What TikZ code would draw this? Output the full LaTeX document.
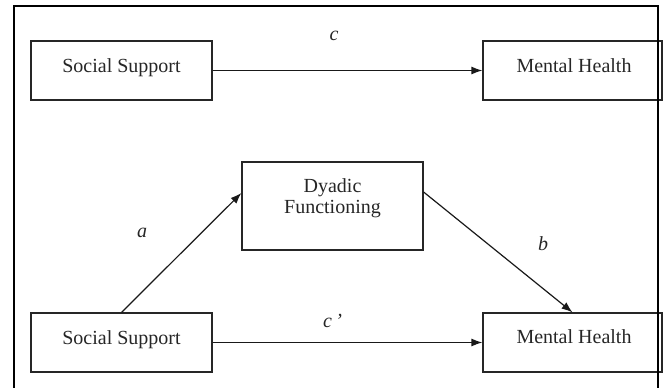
\documentclass[tikz,border=0pt]{standalone}
\usepackage{fontspec}
\setmainfont{Liberation Serif}
\usetikzlibrary{arrows.meta}
\begin{document}
\begin{tikzpicture}[x=1pt,y=-1pt,
  box/.style={draw=black!85, line width=1.2pt, minimum height=59pt, inner sep=0pt},
  txt/.style={anchor=base, inner sep=0pt, font=\fontsize{20}{22}\selectfont, text=black!85},
  lbl/.style={anchor=base, inner sep=0pt, font=\fontsize{20}{22}\selectfont\itshape, text=black!85},
  arr/.style={line width=1.2pt, draw=black!90, -{Latex[length=11pt,width=8pt]}}]
\useasboundingbox (0,0) rectangle (664,388);
% boxes
\node[box, minimum width=181pt] (ss1) at (121.5,70.5) {};
\node[box, minimum width=179pt] (mh1) at (572.5,70.5) {};
\node[box, minimum width=181pt, minimum height=88pt] (dy) at (332.5,206) {};
\node[box, minimum width=181pt] (ss2) at (121.5,342.5) {};
\node[box, minimum width=179pt] (mh2) at (572.5,342.5) {};
% texts
\node[txt] (ss1t) at (121.5,72) {Social Support};
\node[txt] (mh1t) at (574,72) {Mental Health};
\node[txt, align=center, font=\fontsize{20}{20.5}\selectfont] (dyt) at (332.5,213) {Dyadic\\Functioning};
\node[txt] (ss2t) at (121.5,344) {Social Support};
\node[txt] (mh2t) at (574,343) {Mental Health};
% labels
\node[lbl] (lc) at (334,40) {c};
\node[lbl] (la) at (142,237) {a};
\node[lbl] (lb) at (543,250) {b};
\node[lbl, anchor=base west] (lcp) at (323,327) {c\,’};
% connectors
\draw[arr] (ss1.east) -- (mh1.west);
\draw[arr] (ss2.east) -- (mh2.west);
\draw[arr] (ss2.north) -- ([yshift=13pt]dy.west);
\draw[arr] ([yshift=14pt]dy.east) -- (mh2.north);
% frame
\draw[line width=2pt, black] (14,388) -- (14,6) -- (658,6) -- (658,388);
\end{tikzpicture}
\end{document}
